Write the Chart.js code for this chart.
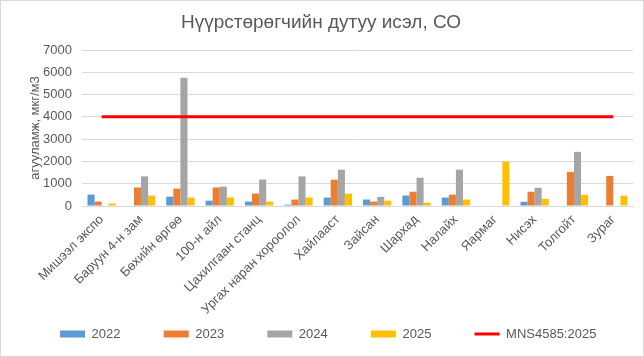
<!DOCTYPE html>
<html>
<head>
<meta charset="utf-8">
<script src="https://cdn.jsdelivr.net/npm/chart.js@4/dist/chart.umd.min.js"></script>
<style>
html,body{margin:0;padding:0;background:#fff;}
#wrap{width:644px;height:357px;box-sizing:border-box;border:1px solid #d9d9d9;}
canvas{display:block;}
</style>
</head>
<body>
<div id="wrap"><canvas id="c" width="642" height="355"></canvas></div>
<script>
const categories = ['Мишээл экспо','Баруун 4-н зам','Бөхийн өргөө','100-н айл','Цахилгаан станц','Ургах наран хороолол','Хайлааст','Зайсан','Шархад','Налайх','Яармаг','Нисэх','Толгойт','Зураг'];
const v2022 = [510, null, 420, 240, 200, 60, 380, 290, 470, 380, null, 190, null, null];
const v2023 = [200, 830, 780, 830, 560, 290, 1180, 200, 640, 510, null, 640, 1530, 1350];
const v2024 = [null, 1330, 5760, 870, 1190, 1330, 1630, 410, 1270, 1630, null, 820, 2430, null];
const v2025 = [110, 470, 380, 380, 200, 380, 550, 240, 150, 290, 1990, 320, 500, 460];
const standard = [4000, 4000, 4000, 4000, 4000, 4000, 4000, 4000, 4000, 4000, 4000, 4000, 4000, 4000];
const seriesNames = ['2022', '2023', '2024', '2025', 'MNS4585:2025'];
const yTicks = [0, 1000, 2000, 3000, 4000, 5000, 6000, 7000];

const txt = '#595959';
const fam = "'Liberation Sans', Arial, sans-serif";
const barCommon = {type: 'bar', categoryPercentage: 0.72, barPercentage: 1.0, order: 1, pointStyle: 'rect', borderWidth: 0};

// keep the legend row compact vertically while using wide horizontal spacing
const LEGEND_H = 40, LEGEND_SHIFT = -31.7;
const legendRow = {
  id: 'legendRow',
  beforeLayout(chart) {
    const lg = chart.legend;
    if (!lg || lg._rowPatched) return;
    lg._rowPatched = true;
    const fit = lg.fit;
    lg.fit = function() { fit.call(this); this.height = LEGEND_H; };
    const draw = lg.draw;
    lg.draw = function() {
      const t = this.top;
      this.top = t + LEGEND_SHIFT;
      draw.apply(this, arguments);
      this.top = t;
    };
  }
};

new Chart(document.getElementById('c'), {
  plugins: [legendRow],
  data: {
    labels: categories,
    datasets: [
      Object.assign({label: seriesNames[0], data: v2022, backgroundColor: '#5B9BD5'}, barCommon),
      Object.assign({label: seriesNames[1], data: v2023, backgroundColor: '#ED7D31'}, barCommon),
      Object.assign({label: seriesNames[2], data: v2024, backgroundColor: '#A5A5A5'}, barCommon),
      Object.assign({label: seriesNames[3], data: v2025, backgroundColor: '#FFC000'}, barCommon),
      {type: 'line', label: seriesNames[4], data: standard, borderColor: '#FF0000', backgroundColor: '#FF0000',
       borderWidth: 3, pointRadius: 0, pointHoverRadius: 0, pointStyle: 'line', order: 0, tension: 0}
    ]
  },
  options: {
    responsive: false,
    animation: false,
    layout: {padding: {left: 1.4, right: 3.4, top: 0, bottom: 0}},
    plugins: {
      title: {
        display: true,
        text: 'Нүүрстөрөгчийн дутуу исэл, СО',
        color: txt,
        font: {family: fam, size: 19, weight: 'normal'},
        padding: {top: 10, bottom: 16.2}
      },
      legend: {
        position: 'bottom',
        align: 'end',
        labels: {
          color: txt,
          font: {family: fam, size: 13},
          usePointStyle: true,
          pointStyleWidth: 25,
          boxHeight: 7,
          padding: 43.2,
          sort: (a, b) => a.datasetIndex - b.datasetIndex
        }
      },
      tooltip: {enabled: false}
    },
    scales: {
      x: {
        offset: true,
        grid: {display: false, drawTicks: false},
        border: {display: true, color: '#d9d9d9', width: 1},
        ticks: {color: txt, font: {family: fam, size: 13}, maxRotation: 45, minRotation: 45, autoSkip: false, padding: 6},
        afterFit: function(s) { s.height = 110; s.paddingRight = 10; }
      },
      y: {
        min: 0, max: 7000,
        afterBuildTicks: function(s) { s.ticks = yTicks.map(v => ({value: v})); },
        grid: {color: '#d9d9d9', drawTicks: false, lineWidth: 1},
        border: {display: false},
        ticks: {color: txt, font: {family: fam, size: 13}, padding: 10, callback: v => String(v)},
        title: {display: true, text: 'агууламж, мкг/м3', color: txt, font: {family: fam, size: 13}, padding: {top: 24.8, bottom: 0}},
        afterFit: function(s) { s.width = 79.6; }
      }
    }
  }
});
</script>
</body>
</html>
